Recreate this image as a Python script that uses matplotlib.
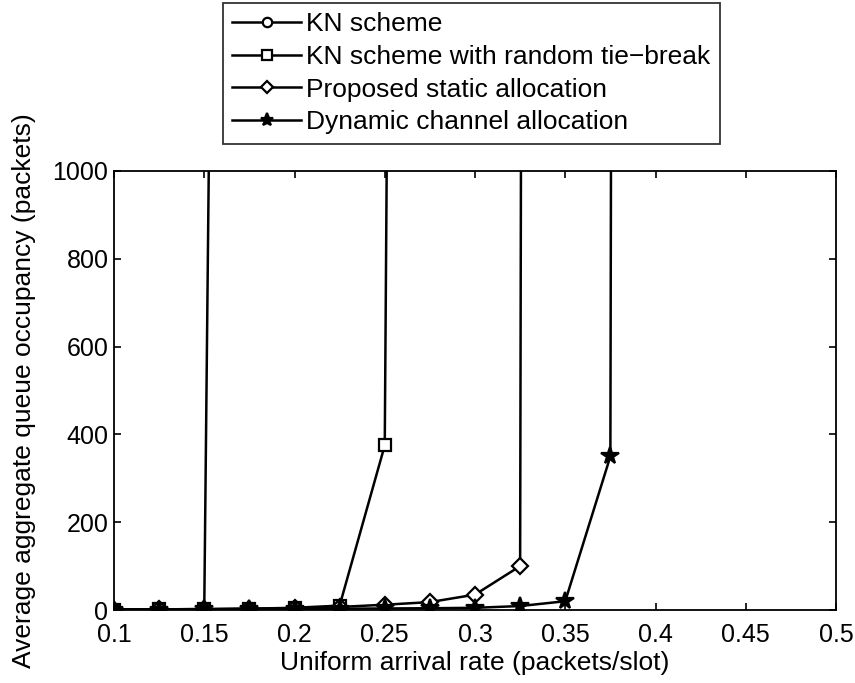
import matplotlib
matplotlib.use("Agg")
import matplotlib.pyplot as plt

plt.rcParams['font.family'] = ['Liberation Sans', 'DejaVu Sans']

# Arrival rates (packets/slot) and average aggregate queue occupancy (packets)
x_kn = [0.1, 0.125, 0.15, 0.175]
y_kn = [1, 1.5, 2, 10000]

x_kn_rand = [0.1, 0.125, 0.15, 0.175, 0.2, 0.225, 0.25, 0.275]
y_kn_rand = [1, 1.5, 2, 3, 5, 10, 375, 15000]

x_static = [0.1, 0.125, 0.15, 0.175, 0.2, 0.225, 0.25, 0.275, 0.3, 0.325, 0.35]
y_static = [1, 1.5, 2, 3, 4, 7, 12, 18, 35, 100, 50000]

x_dynamic = [0.1, 0.125, 0.15, 0.175, 0.2, 0.225, 0.25, 0.275, 0.3, 0.325, 0.35, 0.375, 0.4]
y_dynamic = [1, 1, 1.5, 2, 2.5, 3, 3.5, 4, 5, 9, 20, 350, 50000]

labels = ["KN scheme", "KN scheme with random tie\u2212break",
          "Proposed static allocation", "Dynamic channel allocation"]
xticks = [0.1, 0.15, 0.2, 0.25, 0.3, 0.35, 0.4, 0.45, 0.5]
yticks = [0, 200, 400, 600, 800, 1000]

fig = plt.figure(figsize=(8.55, 6.83), dpi=100)
ax = fig.add_axes([114 / 855, 1 - 610 / 683, (836 - 114) / 855, (610 - 171) / 683])

common = dict(color='black', linewidth=1.8, markersize=9, markeredgewidth=1.6)
ax.plot(x_kn, y_kn, marker='o', markerfacecolor='white', label=labels[0], **common)
ax.plot(x_kn_rand, y_kn_rand, marker='s', markerfacecolor='white', label=labels[1], **common)
ax.plot(x_static, y_static, marker='D', markerfacecolor='white', label=labels[2],
        **{**common, 'markersize': 8})
ax.plot(x_dynamic, y_dynamic, marker='*', markerfacecolor='black', label=labels[3],
        **{**common, 'markersize': 13})

ax.set_xlim(0.1, 0.5)
ax.set_ylim(0, 1000)
ax.set_xticks(xticks)
ax.set_xticklabels([f"{t:g}" for t in xticks])
ax.set_yticks(yticks)
ax.tick_params(direction='in', top=True, right=True, length=5, width=1.2,
               labelsize=18)
ax.tick_params(axis='x', pad=9)
ax.tick_params(axis='y', pad=4)
for s in ax.spines.values():
    s.set_linewidth(1.3)

ax.set_xlabel("Uniform arrival rate (packets/slot)", fontsize=19, labelpad=3)
ax.set_ylabel("Average aggregate queue occupancy (packets)", fontsize=19, labelpad=12)

leg = fig.legend(loc='upper left', bbox_to_anchor=(223 / 855, 1 - 3 / 683),
                 bbox_transform=fig.transFigure, fontsize=19, frameon=True,
                 fancybox=False, edgecolor='black', handlelength=2.6,
                 borderaxespad=0, labelspacing=0.33, handletextpad=0.2,
                 borderpad=0.35, markerscale=0.75)
leg.get_frame().set_linewidth(1.3)

fig.savefig("out.png", dpi=100)
